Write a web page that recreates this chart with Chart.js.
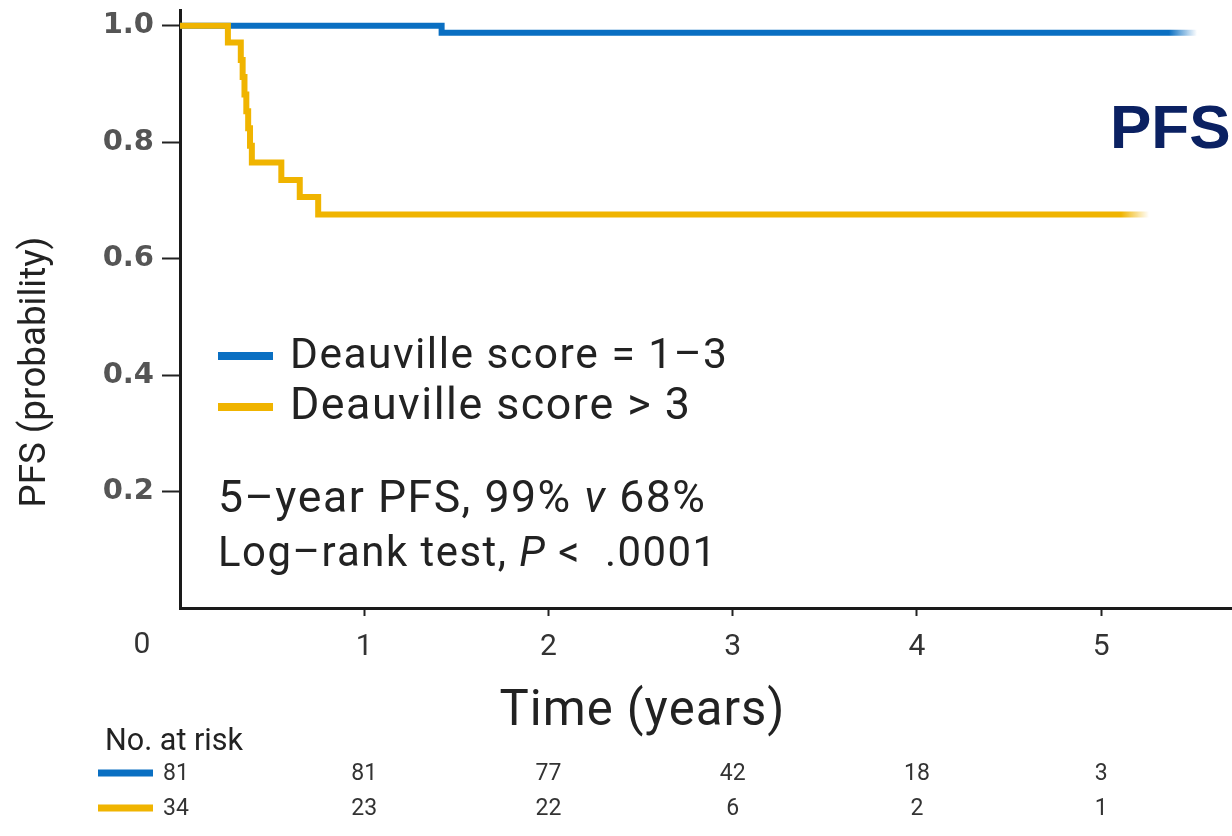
<!DOCTYPE html>
<html>
<head>
<meta charset="utf-8">
<script src="https://cdn.jsdelivr.net/npm/chart.js@4.4.1/dist/chart.umd.min.js"></script>
<style>
  html, body { margin: 0; padding: 0; background: #fff; }
  #wrap { width: 1232px; height: 836px; }
</style>
</head>
<body>
<div id="wrap"><canvas id="km" width="1232" height="836"></canvas></div>
<script>
// Kaplan–Meier progression-free survival, time in years
const timesLow  = [0, 1.42, 5.52];
const survLow   = [1.0, 0.988, 0.988];
const timesHigh = [0, 0.26, 0.33, 0.34, 0.35, 0.36, 0.37, 0.38, 0.39, 0.55, 0.65, 0.75, 5.26];
const survHigh  = [1.0, 0.971, 0.941, 0.912, 0.882, 0.853, 0.824, 0.794, 0.765, 0.735, 0.706, 0.676, 0.676];

const seriesNames = ['Deauville score = 1–3', 'Deauville score > 3'];
const xTickValues = [1, 2, 3, 4, 5];
const yTickValues = [0.2, 0.4, 0.6, 0.8, 1.0];

// Numbers at risk
const riskTimes = [0, 1, 2, 3, 4, 5];
const riskLow   = [81, 81, 77, 42, 18, 3];
const riskHigh  = [34, 23, 22, 6, 2, 1];

const BLUE = '#0a6fc2';
const GOLD = '#f0b400';
const TEXT = '#222';

function pts(ts, ys) { return ts.map((t, i) => ({ x: t, y: ys[i] })); }

// line colour that fades out over the last few pixels of the curve
function fadeStroke(color, tEnd) {
  return (c) => {
    const chart = c.chart;
    const xs = chart.scales.x;
    if (!chart.chartArea || !xs) return color;
    const x1 = xs.getPixelForValue(tEnd);
    const g = chart.ctx.createLinearGradient(x1 - 28, 0, x1, 0);
    g.addColorStop(0, color);
    g.addColorStop(1, color + '00');
    return g;
  };
}

// draws text runs (plain / italic), sizing the font so the line spans a given width
function fitText(ctx, runs, x, y, width, family, align, ls) {
  ls = ls === undefined ? 1.5 : ls;
  const base = 40;
  const fontOf = (it, s) => (it ? 'italic ' : '') + s.toFixed(2) + 'px ' + family;
  let natural = 0, count = 0;
  for (const [t, it] of runs) {
    ctx.font = fontOf(it, base);
    for (const ch of t) { natural += ctx.measureText(ch).width; count++; }
  }
  const size = base * (width - ls * (count - 1)) / natural;
  ctx.save();
  ctx.textBaseline = 'middle';
  ctx.textAlign = 'left';
  let cx = align === 'center' ? x - width / 2 : x;
  for (const [t, it] of runs) {
    ctx.font = fontOf(it, size);
    for (const ch of t) { ctx.fillText(ch, cx, y); cx += ctx.measureText(ch).width + ls; }
  }
  ctx.restore();
}

const decorations = {
  id: 'decorations',
  afterDraw(chart) {
    const ctx = chart.ctx;
    const xs = chart.scales.x;
    const F = 'Roboto';
    ctx.save();
    ctx.fillStyle = TEXT;

    // legend
    ctx.lineCap = 'butt';
    ctx.lineWidth = 8;
    ctx.strokeStyle = BLUE;
    ctx.beginPath(); ctx.moveTo(218, 356); ctx.lineTo(273, 356); ctx.stroke();
    ctx.strokeStyle = GOLD;
    ctx.beginPath(); ctx.moveTo(218, 407); ctx.lineTo(273, 407); ctx.stroke();
    fitText(ctx, [[seriesNames[0], false]], 290, 357, 437, F);
    fitText(ctx, [[seriesNames[1], false]], 290, 408, 400, F);

    // summary statistics
    fitText(ctx, [['5–year PFS, 99% ', false], ['v', true], [' 68%', false]], 218, 501, 487, F);
    fitText(ctx, [['Log–rank test, ', false], ['P', true], [' <  .0001', false]], 218, 556, 498, F);

    // shared origin label
    ctx.fillStyle = '#333';
    ctx.font = '30px Roboto';
    ctx.textAlign = 'center';
    ctx.textBaseline = 'middle';
    ctx.fillText('0', 142, 645);

    // axis titles
    ctx.fillStyle = TEXT;
    fitText(ctx, [['Time (years)', false]], 642, 713, 285, F, 'center', 1);
    ctx.save();
    ctx.translate(36, 372);
    ctx.rotate(-Math.PI / 2);
    fitText(ctx, [['PFS (probability)', false]], 0, 0, 271, F, 'center', 0);
    ctx.restore();

    // numbers at risk
    fitText(ctx, [['No. at risk', false]], 105, 742, 138, F, 'left', 0);
    ctx.lineWidth = 7;
    ctx.strokeStyle = BLUE;
    ctx.beginPath(); ctx.moveTo(98, 773); ctx.lineTo(153, 773); ctx.stroke();
    ctx.strokeStyle = GOLD;
    ctx.beginPath(); ctx.moveTo(98, 808); ctx.lineTo(153, 808); ctx.stroke();
    ctx.font = '23px Roboto';
    ctx.fillStyle = '#333';
    ctx.textAlign = 'center';
    ctx.textBaseline = 'middle';
    riskTimes.forEach((t, i) => {
      const px = xs.getPixelForValue(t) - (i === 0 ? 4 : 0);
      ctx.fillText(String(riskLow[i]), px, 774);
      ctx.fillText(String(riskHigh[i]), px, 809);
    });

    // panel label
    ctx.fillStyle = '#0b2162';
    ctx.font = 'bold 62px "Liberation Sans", Arial, sans-serif';
    ctx.textAlign = 'left';
    ctx.textBaseline = 'middle';
    ctx.fillText('PFS', 1110, 131);
    ctx.restore();
  }
};

new Chart(document.getElementById('km'), {
  type: 'line',
  data: {
    datasets: [
      {
        label: seriesNames[1],
        data: pts(timesHigh, survHigh),
        borderColor: fadeStroke(GOLD, timesHigh[timesHigh.length - 1]),
        borderWidth: 6,
        stepped: 'before',
        pointRadius: 0,
        fill: false,
        order: 0
      },
      {
        label: seriesNames[0],
        data: pts(timesLow, survLow),
        borderColor: fadeStroke(BLUE, timesLow[timesLow.length - 1]),
        borderWidth: 6,
        stepped: 'before',
        pointRadius: 0,
        fill: false,
        order: 1
      }
    ]
  },
  options: {
    responsive: false,
    animation: false,
    layout: { padding: { top: 10, right: 0, bottom: 0, left: 0 } },
    plugins: { legend: { display: false }, tooltip: { enabled: false } },
    scales: {
      x: {
        type: 'linear',
        min: 0,
        max: 5.71,
        afterFit(s) { s.height = 228; s.paddingLeft = 0; s.paddingRight = 0; },
        afterBuildTicks(s) { s.ticks = xTickValues.map(v => ({ value: v })); },
        grid: { display: true, drawOnChartArea: false, drawTicks: true, tickLength: 8, tickColor: '#222', tickWidth: 2, color: '#222' },
        border: { display: true, color: '#1a1a1a', width: 3 },
        ticks: { font: { family: 'Roboto', size: 30 }, color: '#333', padding: 13, maxRotation: 0, autoSkip: false,
                 callback: v => String(v) }
      },
      y: {
        min: 0,
        max: 1.027,
        afterFit(s) { s.width = 180; s.paddingTop = 0; s.paddingBottom = 0; },
        afterBuildTicks(s) { s.ticks = yTickValues.map(v => ({ value: v })); },
        grid: { display: true, drawOnChartArea: false, drawTicks: true, tickLength: 18, tickColor: '#222', tickWidth: 2, color: '#222' },
        border: { display: true, color: '#1a1a1a', width: 3 },
        ticks: { font: { family: 'DejaVu Sans', size: 29, weight: 'bold' }, color: '#555', padding: 8,
                 callback: v => Number(v).toFixed(1) }
      }
    }
  },
  plugins: [decorations]
});
</script>
</body>
</html>
